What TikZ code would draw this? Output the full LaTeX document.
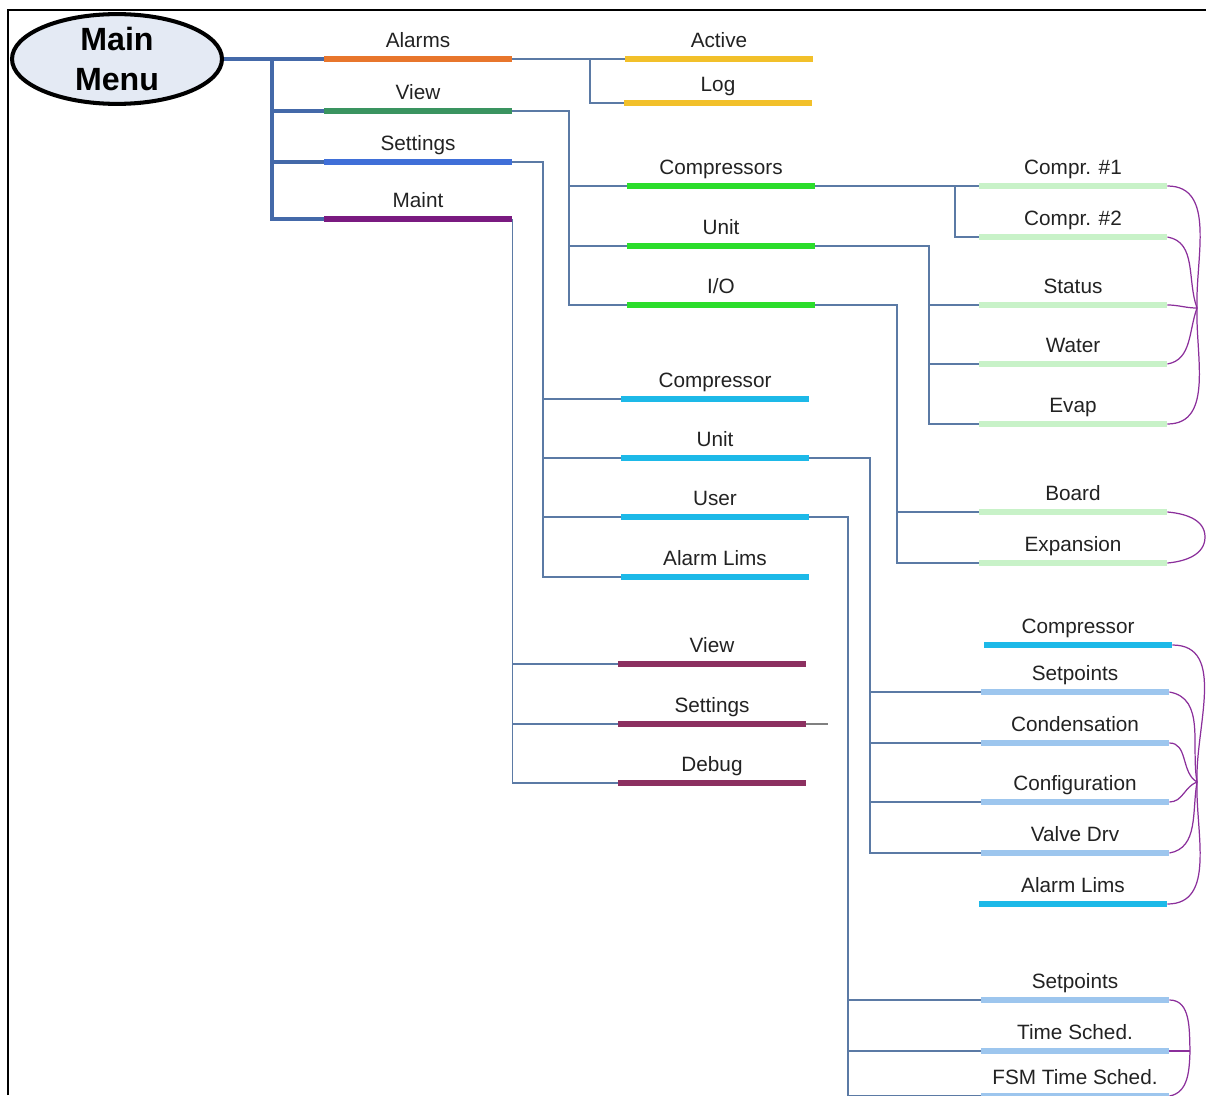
\documentclass[tikz,border=0pt]{standalone}
\usepackage{fontspec}
\setmainfont{Liberation Sans}
\usetikzlibrary{positioning,calc,shapes.geometric}
\definecolor{trunkblue}{HTML}{4469A9}
\definecolor{linkblue}{HTML}{5B7AA5}
\definecolor{bracepurple}{HTML}{8B2F9B}
\definecolor{menufill}{HTML}{E4EAF4}
\definecolor{labelgray}{HTML}{222222}
\definecolor{alarmorange}{HTML}{E8762C}
\definecolor{viewgreen}{HTML}{3A9460}
\definecolor{setblue}{HTML}{3F6FD8}
\definecolor{maintpurple}{HTML}{7A1A80}
\definecolor{alarmyellow}{HTML}{F2C02A}
\definecolor{brightgreen}{HTML}{2BDD2B}
\definecolor{setcyan}{HTML}{1DB9E8}
\definecolor{maintmaroon}{HTML}{8C3060}
\definecolor{palegreen}{HTML}{C8F2C8}
\definecolor{paleblue}{HTML}{9DC6EE}
\tikzset{
    every picture/.style={line width=0.5pt},
    bar/.style={rectangle,draw=none,inner sep=0pt,minimum width=3.76cm,minimum height=0.12cm},
    every label/.style={inner sep=0pt,text depth=0pt,yshift=0.16cm,font=\fontsize{11.8}{14}\selectfont,text=labelgray},
    mainmenu/.style={ellipse,draw=black,fill=menufill,line width=2.3pt,minimum width=4.2cm,minimum height=1.72cm,inner sep=0pt,align=center,font=\fontsize{18.3}{22.7}\selectfont\bfseries},
    trunk/.style={draw=trunkblue,line width=2.2pt},
    link/.style={draw=linkblue,line width=0.7pt},
    brace/.style={draw=bracepurple,line width=0.7pt},
    frame/.style={draw=black,line width=1.7pt}
}

\begin{document}
\begin{tikzpicture}[x=0.02cm,y=-0.02cm]
        \useasboundingbox (0,0) rectangle (1206,1095);
        \draw[frame] (8,1095) -- (8,10) -- (1206,10);

        % Main menu and first level
        \node[mainmenu] (main) at (117,59) {Main\\Menu};
        \node[bar,fill=alarmorange,label=above:Alarms] (alarms) at (418,59) {};
        \node[bar,fill=viewgreen,label=above:View] (view) at (418,111) {};
        \node[bar,fill=setblue,label=above:Settings] (settings) at (418,162) {};
        \node[bar,fill=maintpurple,label=above:Maint] (maint) at (418,219) {};
        \coordinate (tbus) at (272,59);
        \draw[trunk] (main.east) -- (alarms.west);
        \draw[trunk] (tbus) |- (view.west);
        \draw[trunk] (tbus) |- (settings.west);
        \draw[trunk] (tbus) |- (maint.west);

        % Alarms
        \node[bar,fill=alarmyellow,label=above:Active] (active) at (719,59) {};
        \node[bar,fill=alarmyellow,label=above:Log] (log) at (718,103) {};
        \coordinate (abus) at (590,59);
        \draw[link] (alarms.east) -- (active.west);
        \draw[link] (abus) |- (log.west);

        % View
        \node[bar,fill=brightgreen,label=above:Compressors] (vcomp) at (721,186) {};
        \node[bar,fill=brightgreen,label=above:Unit] (vunit) at (721,246) {};
        \node[bar,fill=brightgreen,label=above:I/O] (vio) at (721,305) {};
        \coordinate (vbus) at (569,111);
        \draw[link] (view.east) -- (vbus) |- (vcomp.west);
        \draw[link] (vbus) |- (vunit.west);
        \draw[link] (vbus) |- (vio.west);

        \node[bar,fill=palegreen,label=above:{Compr. \#1}] (comp1) at (1073,186) {};
        \node[bar,fill=palegreen,label=above:{Compr. \#2}] (comp2) at (1073,237) {};
        \node[bar,fill=palegreen,label=above:Status] (status) at (1073,305) {};
        \node[bar,fill=palegreen,label=above:Water] (water) at (1073,364) {};
        \node[bar,fill=palegreen,label=above:Evap] (evap) at (1073,424) {};
        \node[bar,fill=palegreen,label=above:Board] (board) at (1073,512) {};
        \node[bar,fill=palegreen,label=above:Expansion] (expansion) at (1073,563) {};
        \coordinate (cbus) at (955,186);
        \coordinate (ubus) at (929,246);
        \coordinate (iobus) at (897,305);
        \draw[link] (vcomp.east) -- (comp1.west);
        \draw[link] (cbus) |- (comp2.west);
        \draw[link] (vunit.east) -- (ubus) |- (status.west);
        \draw[link] (ubus) |- (water.west);
        \draw[link] (ubus) |- (evap.west);
        \draw[link] (vio.east) -- (iobus) |- (board.west);
        \draw[link] (iobus) |- (expansion.west);

        % Settings
        \node[bar,fill=setcyan,label=above:Compressor] (scomp) at (715,399) {};
        \node[bar,fill=setcyan,label=above:Unit] (sunit) at (715,458) {};
        \node[bar,fill=setcyan,label=above:User] (suser) at (715,517) {};
        \node[bar,fill=setcyan,label=above:Alarm Lims] (slims) at (715,577) {};
        \coordinate (sbus) at (543,162);
        \draw[link] (settings.east) -- (sbus) |- (scomp.west);
        \draw[link] (sbus) |- (sunit.west);
        \draw[link] (sbus) |- (suser.west);
        \draw[link] (sbus) |- (slims.west);

        \node[bar,fill=setcyan,label=above:Compressor] (ucomp) at (1078,645) {};
        \node[bar,fill=paleblue,label=above:Setpoints] (usetp) at (1075,692) {};
        \node[bar,fill=paleblue,label=above:Condensation] (ucond) at (1075,743) {};
        \node[bar,fill=paleblue,label=above:Configuration] (uconf) at (1075,802) {};
        \node[bar,fill=paleblue,label=above:Valve Drv] (uvalve) at (1075,853) {};
        \node[bar,fill=setcyan,label=above:Alarm Lims] (ulims) at (1073,904) {};
        \coordinate (subus) at (870,458);
        \draw[link] (sunit.east) -- (subus) |- (usetp.west);
        \draw[link] (subus) |- (ucond.west);
        \draw[link] (subus) |- (uconf.west);
        \draw[link] (subus) |- (uvalve.west);

        \node[bar,fill=paleblue,label=above:Setpoints] (psetp) at (1075,1000) {};
        \node[bar,fill=paleblue,label=above:Time Sched.] (ptime) at (1075,1051) {};
        \node[bar,fill=paleblue,label=above:FSM Time Sched.] (pfsm) at (1075,1096) {};
        \coordinate (usbus) at (848,517);
        \draw[link] (suser.east) -- (usbus) |- (psetp.west);
        \draw[link] (usbus) |- (ptime.west);
        \draw[link] (usbus) |- (pfsm.west);

        % Maint
        \node[bar,fill=maintmaroon,label=above:View] (mview) at (712,664) {};
        \node[bar,fill=maintmaroon,label=above:Settings] (mset) at (712,724) {};
        \node[bar,fill=maintmaroon,label=above:Debug] (mdebug) at (712,783) {};
        \coordinate (mstub) at (828,724);
        \draw[link] (maint.east) |- (mview.west);
        \draw[link] (maint.east) |- (mset.west);
        \draw[link] (maint.east) |- (mdebug.west);
        \draw[link,draw=gray] (mset.east) -- (mstub);

        % Braces
        \coordinate (cjoin) at (1197,308);
        \draw[brace] (comp1.east) to[out=0,in=92] (cjoin);
        \draw[brace] (comp2.east) to[out=-10,in=110] (cjoin);
        \draw[brace] (status.east) to[out=0,in=180] (cjoin);
        \draw[brace] (water.east) to[out=10,in=-110] (cjoin);
        \draw[brace] (evap.east) to[out=0,in=-92] (cjoin);

        \coordinate (bjoin) at (1205,537);
        \draw[brace] (board.east) to[out=-5,in=90] (bjoin);
        \draw[brace] (expansion.east) to[out=5,in=-90] (bjoin);

        \coordinate (sjoin) at (1197,782);
        \draw[brace] (ucomp.east) to[out=0,in=92] (sjoin);
        \draw[brace] (usetp.east) to[out=-10,in=100] (sjoin);
        \draw[brace] (ucond.east) to[out=0,in=150] (sjoin);
        \draw[brace] (uconf.east) to[out=0,in=200] (sjoin);
        \draw[brace] (uvalve.east) to[out=10,in=-100] (sjoin);
        \draw[brace] (ulims.east) to[out=0,in=-92] (sjoin);

        \coordinate (pjoin) at (1190,1051);
        \draw[brace] (psetp.east) to[out=0,in=92] (pjoin);
        \draw[brace] (ptime.east) to[out=0,in=180] (pjoin);
        \draw[brace] (pfsm.east) to[out=10,in=-92] (pjoin);
\end{tikzpicture}
\end{document}
